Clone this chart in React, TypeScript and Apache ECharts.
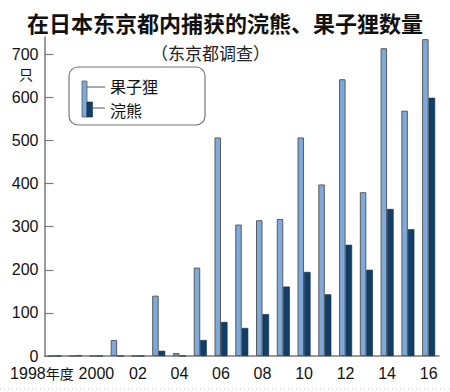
import React, { useEffect, useRef } from "react";
import * as echarts from "echarts";

const categories = ["1998", "1999", "2000", "2001", "2002", "2003", "2004", "2005", "2006", "2007", "2008", "2009", "2010", "2011", "2012", "2013", "2014", "2015", "2016"];
const tickLabels = ["1998", "", "2000", "", "02", "", "04", "", "06", "", "08", "", "10", "", "12", "", "14", "", "16"];
const firstLabelSuffix = "年度";
const civetValues = [0, 0, 0, 37, 0, 140, 7, 205, 507, 305, 315, 318, 507, 398, 642, 380, 714, 569, 735];
const raccoonValues = [0, 1, 0, 0, 0, 12, 0, 37, 79, 65, 97, 161, 195, 143, 258, 200, 341, 294, 599];
const yTickValues = [0, 100, 200, 300, 400, 500, 600, 700];

const titleText = "在日本东京都内捕获的浣熊、果子狸数量";
const subtitleText = "（东京都调查）";
const unitText = "只";
const civetName = "果子狸";
const raccoonName = "浣熊";

const LIGHT = "#7eaadb";
const DARK = "#113d66";
const NUM_FONT = "'Liberation Sans', Arial, sans-serif";
const CJK_FONT = "'Noto Sans CJK SC', sans-serif";

export default function App() {
  const ref = useRef<HTMLDivElement>(null);
  useEffect(() => {
    if (!ref.current) return;
    const chart = echarts.init(ref.current, null, { renderer: "svg" });
    chart.setOption({
      animation: false,
      backgroundColor: "#ffffff",
      title: [
        {
          text: titleText,
          left: "center",
          top: 6,
          textStyle: { fontSize: 22, fontWeight: "bold", color: "#111", fontFamily: CJK_FONT },
        },
        {
          text: subtitleText,
          left: 146,
          top: 37,
          textStyle: { fontSize: 17, fontWeight: "normal", color: "#222", fontFamily: CJK_FONT, lineHeight: 20 },
        },
      ],
      grid: { left: 44.5, right: 11, top: 37, bottom: 36, containLabel: false },
      xAxis: {
        type: "category",
        data: categories,
        axisLine: { lineStyle: { color: "#7a7a7a", width: 1.5 } },
        axisTick: { alignWithLabel: true, length: 7, interval: 0, lineStyle: { color: "#7a7a7a", width: 1.2 } },
        axisLabel: {
          interval: 0,
          margin: 9,
          fontSize: 16,
          color: "#111",
          fontFamily: NUM_FONT,
          formatter: (_v: string, i: number) =>
            i === 0 ? "{a|" + tickLabels[i] + "}{b|" + firstLabelSuffix + "}{p|}" : tickLabels[i],
          rich: {
            a: { fontSize: 16, fontFamily: NUM_FONT, color: "#111" },
            b: { fontSize: 14, fontFamily: CJK_FONT, color: "#111" },
            p: { width: 26 },
          },
        },
      },
      yAxis: {
        type: "value",
        min: 0,
        max: 740,
        interval: 100,
        splitLine: { show: false },
        axisLine: { show: true, lineStyle: { color: "#7a7a7a", width: 1.5 } },
        axisTick: { show: true, inside: true, length: 9, customValues: yTickValues, lineStyle: { color: "#7a7a7a", width: 1.2 } },
        axisLabel: { customValues: yTickValues, margin: 6, fontSize: 16, color: "#111", fontFamily: NUM_FONT },
      },
      series: [
        {
          name: civetName,
          type: "bar",
          data: civetValues,
          barWidth: 6.5,
          barGap: "0%",
          itemStyle: { color: LIGHT, borderColor: "#5a5a5a", borderWidth: 1 },
        },
        {
          name: raccoonName,
          type: "bar",
          data: raccoonValues,
          barWidth: 6.5,
          barGap: "0%",
          itemStyle: { color: DARK, borderColor: "#0a2a48", borderWidth: 0.6 },
        },
      ],
      graphic: [
        { type: "text", left: 19, top: 66, style: { text: unitText, fill: "#111", font: "14px " + CJK_FONT, lineHeight: 15 } },
        {
          type: "group",
          z: 100,
          children: [
            { type: "rect", shape: { x: 69, y: 67, width: 136, height: 58, r: 9 }, style: { fill: "#fff", stroke: "#777", lineWidth: 1.2 } },
            { type: "rect", shape: { x: 82, y: 81, width: 5, height: 36 }, style: { fill: LIGHT, stroke: "#5a5a5a", lineWidth: 0.8 } },
            { type: "rect", shape: { x: 87, y: 102, width: 5.5, height: 15 }, style: { fill: DARK, stroke: "#0a2a48", lineWidth: 0.6 } },
            { type: "line", shape: { x1: 87, y1: 87, x2: 105, y2: 87 }, style: { stroke: "#555", lineWidth: 1 } },
            { type: "line", shape: { x1: 92.5, y1: 108, x2: 105, y2: 108 }, style: { stroke: "#555", lineWidth: 1 } },
            { type: "text", x: 110, y: 86, style: { text: civetName, fill: "#111", font: "16px " + CJK_FONT, lineHeight: 18, verticalAlign: "middle" } },
            { type: "text", x: 110, y: 110, style: { text: raccoonName, fill: "#111", font: "16px " + CJK_FONT, lineHeight: 18, verticalAlign: "middle" } },
          ],
        },
        { type: "line", shape: { x1: 0, y1: 389, x2: 450, y2: 389 }, style: { stroke: "#cccccc", lineWidth: 1, lineDash: [1, 3] } },
      ],
    });
    return () => chart.dispose();
  }, []);
  return <div ref={ref} style={{ position: "fixed", left: 0, top: 0, width: 450, height: 392, background: "#fff" }} />;
}
